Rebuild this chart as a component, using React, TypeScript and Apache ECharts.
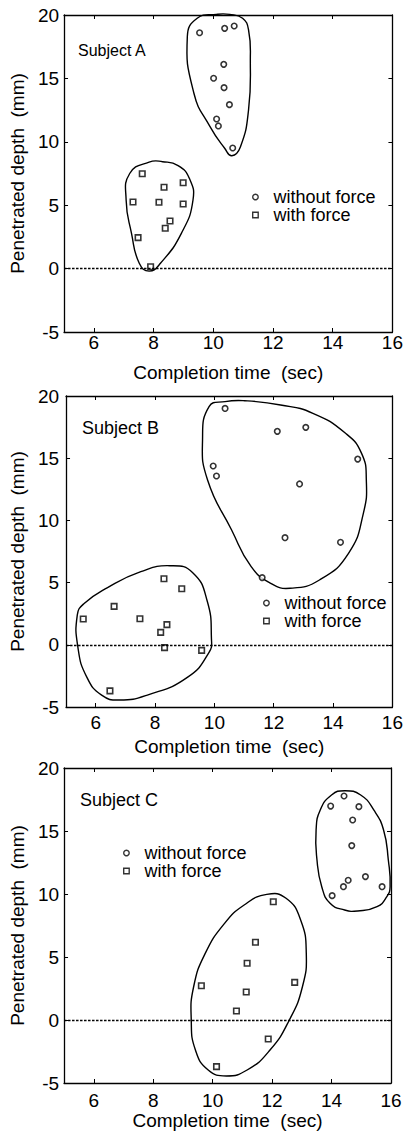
import React, { useEffect, useRef } from "react";
import * as echarts from "echarts";

// ---- tick labels ----
const xTickValues = [6, 8, 10, 12, 14, 16];
const yTickInterval = 5;

// ---- categories ----
const seriesNames = ["without force", "with force"];
const subjectNames = ["Subject A", "Subject B", "Subject C"];

// ---- Subject A ----
const aWithout = [
  [9.54, 18.6], [10.38, 18.95], [10.7, 19.13], [10.35, 16.11], [10.01, 15.01],
  [10.36, 14.27], [10.54, 12.93], [10.11, 11.8], [10.17, 11.25], [10.65, 9.51],
];
const aWith = [
  [7.62, 7.48], [8.35, 6.41], [8.99, 6.77], [7.31, 5.25], [8.18, 5.23],
  [8.99, 5.09], [8.55, 3.75], [8.39, 3.18], [7.48, 2.44], [7.9, 0.15],
];
const aContourWithout = [
  [10.1, 20.05], [10.55, 20.05], [10.98, 19.74], [11.18, 18.82], [11.24, 16.45],
  [11.18, 12.51], [10.91, 9.61], [10.62, 8.9], [10.38, 9.49], [9.89, 11.19],
  [9.35, 13.83], [9.13, 18.3], [9.46, 19.74],
];
const aContourWith = [
  [7.85, 8.4], [8.3, 8.43], [8.82, 8.12], [9.2, 7.1], [9.32, 5.41], [8.93, 2.78],
  [8.23, 0.42], [7.85, -0.2], [7.52, 0.42], [7.26, 2.78], [7.08, 5.41], [7.2, 7.5],
];

// ---- Subject B ----
const bWithout = [
  [10.36, 19.0], [12.12, 17.16], [13.08, 17.48], [9.96, 14.37], [10.07, 13.57],
  [14.83, 14.93], [12.87, 12.93], [12.38, 8.61], [14.25, 8.24], [11.61, 5.4],
];
const bWith = [
  [5.58, 2.07], [6.62, 3.09], [7.49, 2.1], [8.3, 5.31], [8.9, 4.51],
  [8.4, 1.62], [8.19, 1.0], [8.32, -0.23], [9.57, -0.45], [6.48, -3.7],
];
const bContourWithout = [
  [10.36, 19.55], [11.02, 19.62], [12.23, 19.28], [13.32, 18.61], [14.42, 17.0],
  [14.96, 15.39], [15.12, 13.25], [15.02, 10.57], [14.52, 7.35], [13.54, 5.21],
  [12.55, 4.54], [11.9, 4.94], [11.24, 6.28], [10.58, 9.23], [9.77, 13.25],
  [9.6, 16.46], [9.82, 19.14],
];
const bContourWith = [
  [5.38, 2.4], [5.6, 3.3], [6.4, 4.6], [7.52, 5.88], [8.5, 6.36], [9.27, 5.8],
  [9.76, 3.5], [9.9, 0.5], [9.82, -0.6], [9.1, -2.6], [7.74, -4.04], [6.8, -4.44],
  [6.2, -4.05], [5.7, -2.6], [5.4, -0.2],
];

// ---- Subject C ----
const cWithout = [
  [14.42, 17.78], [13.97, 16.98], [14.92, 16.93], [14.71, 15.87], [14.68, 13.84],
  [15.14, 11.38], [14.56, 11.09], [14.4, 10.58], [15.7, 10.58], [14.02, 9.87],
];
const cWith = [
  [12.04, 9.39], [11.44, 6.17], [11.16, 4.5], [9.62, 2.72], [12.76, 2.99],
  [11.13, 2.22], [10.8, 0.71], [11.87, -1.51], [10.13, -3.7],
];
const cContourWithout = [
  [14.44, 18.2], [14.98, 17.86], [15.42, 16.67], [15.75, 15.08], [15.91, 12.7],
  [15.97, 10.58], [15.86, 9.79], [15.53, 8.99], [14.88, 8.65], [14.44, 8.73],
  [13.95, 9.26], [13.67, 10.58], [13.51, 12.7], [13.48, 15.08], [13.62, 16.67],
  [14.0, 17.86],
];
const cContourWith = [
  [11.82, 9.97], [12.47, 9.66], [12.96, 7.94], [13.15, 5.29], [13.02, 2.64],
  [12.58, 0], [11.93, -2.38], [11.16, -3.97], [10.46, -4.44], [9.85, -3.97],
  [9.42, -2.38], [9.28, 0], [9.36, 2.64], [9.75, 5.29], [10.4, 7.67], [11.06, 9.13],
];

const referenceLineValue = 0;

const FONT = "'Liberation Sans', Arial, Helvetica, sans-serif";
const SQUARE_ICON = "path://M0,0L10,0L10,10L0,10Z";

const panels = [
  {
    subject: subjectNames[0], without: aWithout, withF: aWith,
    contours: [aContourWithout, aContourWith],
    grid: { left: 55, top: 15, width: 341, height: 317 },
    xLabelMargin: 1, xNameGap: 31, yLabelMargin: 5, yNameGap: 20,
    subjectPos: [78, 50], subjectSize: 16,
    legendPos: [252, 188],
  },
  {
    subject: subjectNames[1], without: bWithout, withF: bWith,
    contours: [bContourWithout, bContourWith],
    grid: { left: 60, top: 396, width: 335, height: 311 },
    xLabelMargin: 6, xNameGap: 30, yLabelMargin: 7, yNameGap: 24,
    subjectPos: [82, 428], subjectSize: 18,
    legendPos: [263, 594],
  },
  {
    subject: subjectNames[2], without: cWithout, withF: cWith,
    contours: [cContourWithout, cContourWith],
    grid: { left: 55, top: 768, width: 336, height: 315 },
    xLabelMargin: 8, xNameGap: 27, yLabelMargin: 5, yNameGap: 19,
    subjectPos: [80, 800], subjectSize: 18,
    legendPos: [123, 844],
  },
];

function buildOption() {
  const grid: any[] = [];
  const xAxis: any[] = [];
  const yAxis: any[] = [];
  const series: any[] = [];
  const legend: any[] = [];
  const graphic: any[] = [];

  panels.forEach((p, i) => {
    grid.push({ ...p.grid, containLabel: false });
    const axisLine = { show: true, onZero: false, lineStyle: { color: "#000", width: 1.3 } };
    const tick = { show: true, inside: true, length: 4, lineStyle: { color: "#000", width: 1 } };
    xAxis.push({
      type: "value", gridIndex: i, min: 5, max: 16, position: "bottom",
      axisLine, axisTick: { ...tick, customValues: xTickValues },
      axisLabel: { customValues: xTickValues, color: "#000", fontSize: 19, fontFamily: FONT, margin: p.xLabelMargin },
      splitLine: { show: false },
      name: "Completion time  (sec)", nameLocation: "middle", nameGap: p.xNameGap,
      nameTextStyle: { color: "#000", fontSize: 19, fontFamily: FONT },
    });
    xAxis.push({
      type: "value", gridIndex: i, min: 5, max: 16, position: "top",
      axisLine, axisTick: { ...tick, customValues: xTickValues },
      axisLabel: { show: false }, splitLine: { show: false },
    });
    yAxis.push({
      type: "value", gridIndex: i, min: -5, max: 20, interval: yTickInterval, position: "left",
      axisLine, axisTick: tick,
      axisLabel: { color: "#000", fontSize: 19, fontFamily: FONT, margin: p.yLabelMargin },
      splitLine: { show: false },
      name: "Penetrated depth  (mm)", nameLocation: "middle", nameGap: p.yNameGap,
      nameTextStyle: { color: "#000", fontSize: 19, fontFamily: FONT },
    });
    yAxis.push({
      type: "value", gridIndex: i, min: -5, max: 20, interval: yTickInterval, position: "right",
      axisLine, axisTick: tick, axisLabel: { show: false }, splitLine: { show: false },
    });

    const xi = i * 2;
    const yi = i * 2;

    p.contours.forEach((contour) => {
      series.push({
        type: "custom", xAxisIndex: xi, yAxisIndex: yi, silent: true, clip: false, z: 1,
        encode: { x: 0, y: 1 },
        data: contour,
        renderItem: (params: any, api: any) => {
          if (params.dataIndex !== 0) return null;
          const pts = contour.map((pt) => api.coord(pt));
          return {
            type: "polygon",
            shape: { points: pts, smooth: 0.5 },
            style: { fill: "none", stroke: "#000", lineWidth: 1.4 },
          };
        },
      });
    });

    series.push({
      name: seriesNames[0], type: "scatter", xAxisIndex: xi, yAxisIndex: yi,
      symbol: "circle", symbolSize: 5.5, z: 3,
      itemStyle: { color: "#fff", borderColor: "#000", borderWidth: 1.6 },
      data: p.without,
    });
    series.push({
      name: seriesNames[1], type: "scatter", xAxisIndex: xi, yAxisIndex: yi,
      symbol: "rect", symbolSize: 5.5, z: 3,
      itemStyle: { color: "#fff", borderColor: "#000", borderWidth: 1.6 },
      data: p.withF,
      markLine: {
        silent: true, symbol: ["none", "none"], label: { show: false },
        lineStyle: { color: "#000", type: [2.5, 1.5], width: 1.3 },
        data: [{ yAxis: referenceLineValue }],
      },
    });

    legend.push({
      left: p.legendPos[0], top: p.legendPos[1], orient: "vertical", padding: 0,
      itemWidth: 26, itemHeight: 5.5, itemGap: 0, selectedMode: false, symbolKeepAspect: true,
      itemStyle: { borderWidth: 1.4, borderColor: "#000", color: "#fff" },
      textStyle: { color: "#000", fontSize: 18, lineHeight: 18, fontFamily: FONT },
      data: [
        { name: seriesNames[0], icon: "circle" },
        { name: seriesNames[1], icon: SQUARE_ICON },
      ],
    });

    graphic.push({
      type: "text", x: p.subjectPos[0], y: p.subjectPos[1],
      style: {
        text: p.subject, fill: "#000", fontSize: p.subjectSize, fontFamily: FONT,
        textVerticalAlign: "middle", verticalAlign: "middle",
      },
    });
  });

  return {
    animation: false,
    backgroundColor: "#fff",
    grid, xAxis, yAxis, series, legend, graphic,
  };
}

export default function App() {
  const ref = useRef<HTMLDivElement>(null);
  useEffect(() => {
    if (!ref.current) return;
    const chart = echarts.init(ref.current, undefined, { renderer: "svg" });
    chart.setOption(buildOption() as any);
    return () => chart.dispose();
  }, []);
  return (
    <div
      ref={ref}
      style={{ position: "absolute", left: 0, top: 0, width: 406, height: 1133, background: "#fff" }}
    />
  );
}
